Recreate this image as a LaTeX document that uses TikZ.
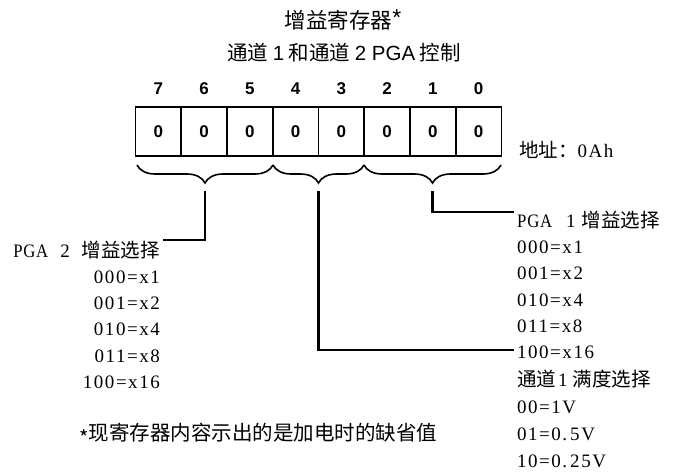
\documentclass[tikz,border=0pt]{standalone}
\usepackage{fontspec}
\setmainfont{Liberation Serif}
\newfontfamily\cjk{Noto Sans CJK SC}
\newfontfamily\sansf{Liberation Sans}
\newfontfamily\serl{Liberation Serif}[LetterSpace=8]
\newfontfamily\serc{Liberation Serif}[FakeStretch=0.88, LetterSpace=4]
\usetikzlibrary{decorations.pathreplacing}
\newcommand\zh[1]{{\cjk\fontsize{19.5}{19.5}\selectfont #1}}
\newcommand\pga{{\serc PGA}}
\begin{document}
\begin{tikzpicture}[x=1pt,y=-1pt,
  cell/.style={draw, line width=1.6pt, minimum width=45.75pt, minimum height=49pt, inner sep=0pt,
    font=\sansf\bfseries\fontsize{17}{17}\selectfont},
  bitnum/.style={inner sep=0pt, font=\sansf\bfseries\fontsize{17}{17}\selectfont},
  lab/.style={inner sep=0pt, text height=14pt, text depth=4pt, font=\serl\fontsize{19}{19}\selectfont},
  brc/.style={decorate, decoration={brace, amplitude=18pt, mirror}, line width=1.6pt},
  conn/.style={line width=2.2pt}
]
\useasboundingbox (0,0) rectangle (674,471);
% titles
\node[inner sep=0pt] (title) at (343,20) {{\cjk\fontsize{21.5}{21.5}\selectfont 增益寄存器}\raisebox{3pt}{\sansf\fontsize{23}{23}\selectfont *}};
\node[inner sep=0pt] (subtitle) at (344,53) {\cjk\fontsize{20.5}{20.5}\selectfont 通道 {\sansf 1} 和通道 {\sansf 2 PGA} 控制};
% cells and bit numbers
\foreach \k/\b in {0/7,1/6,2/5,3/4,4/3,5/2,6/1,7/0}{
  \node[cell] (c\b) at ({135.5+45.75*(\k+0.5)},131.5) {0};
  \node[bitnum] (n\b) at ({135.5+45.75*(\k+0.5)},89) {\b};
}
\node[inner sep=0pt, anchor=west] (addr) at (519,150) {\zh{地址：}{\serl\fontsize{19}{19}\selectfont 0Ah}};
% braces
\coordinate (b1l) at (137,165);
\coordinate (b1r) at (273,165);
\coordinate (b2r) at (364,165);
\coordinate (b3r) at (501,165);
\draw[brc] (b1l) -- (b1r);
\draw[brc] (b1r) -- (b2r);
\draw[brc] (b2r) -- (b3r);
\coordinate (t1) at (205,191);
\coordinate (t2) at (318.5,191);
\coordinate (t3) at (432.5,191);
\coordinate (e1) at (163,240);
\coordinate (e2) at (514,350);
\coordinate (e3) at (514,212);
% left column
\node[lab, anchor=east] (l0) at (160,252) {\pga\hspace{12pt}2\hspace{12pt}\zh{增益选择}};
\node[lab, anchor=east] (l1) at (160,278) {000=x1};
\node[lab, anchor=east] (l2) at (160,304) {001=x2};
\node[lab, anchor=east] (l3) at (160,330.5) {010=x4};
\node[lab, anchor=east] (l4) at (160,357) {011=x8};
\node[lab, anchor=east] (l5) at (160,383.5) {100=x16};
% right column
\node[lab, anchor=west] (r0) at (517,222) {\pga\hspace{14pt}1\hspace{6pt}\zh{增益选择}};
\node[lab, anchor=west] (r1) at (517,248.5) {000=x1};
\node[lab, anchor=west] (r2) at (517,274.5) {001=x2};
\node[lab, anchor=west] (r3) at (517,301.5) {010=x4};
\node[lab, anchor=west] (r4) at (517,327.5) {011=x8};
\node[lab, anchor=west] (r5) at (517,353.5) {100=x16};
\node[lab, anchor=west] (r6) at (517,381) {\zh{通道}\hspace{2pt}1\hspace{5pt}\zh{满度选择}};
\node[lab, anchor=west] (r7) at (517,408) {00=1V};
\node[lab, anchor=west] (r8) at (517,435) {01=0.\hspace{3pt}5V};
\node[lab, anchor=west] (r9) at (517,462) {10=0.\hspace{3pt}25V};
% footnote
\node[inner sep=0pt, anchor=west] (foot) at (79,434) {\raisebox{-5pt}{\cjk\fontsize{20}{20}\selectfont *}{\cjk\fontsize{20.5}{20.5}\selectfont 现寄存器内容示出的是加电时的缺省值}};
% connectors
\draw[conn] (t1) |- (e1);
\draw[conn] (t2) |- (e2);
\draw[conn] (t3) |- (e3);
\end{tikzpicture}
\end{document}
